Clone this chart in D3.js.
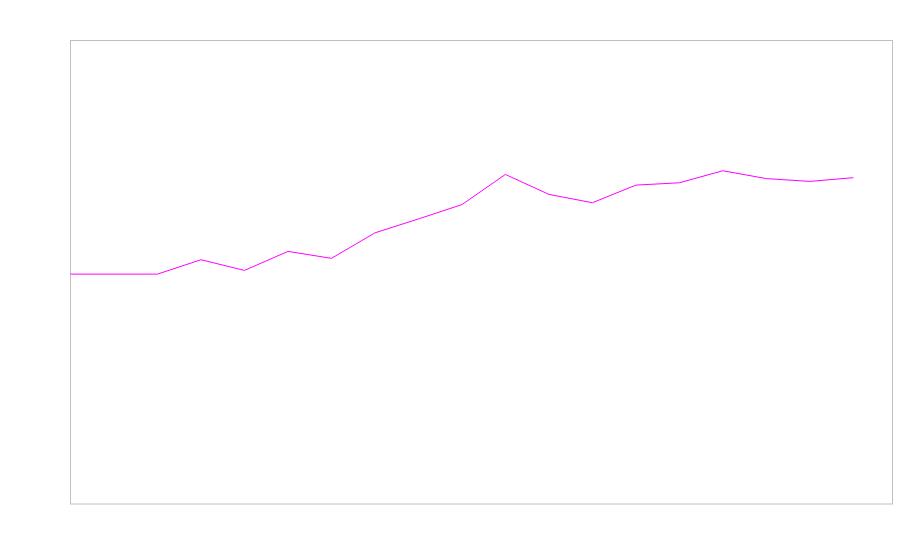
<!DOCTYPE html>
<html>
<head>
<meta charset="utf-8">
<script src="https://cdn.jsdelivr.net/npm/d3@7"></script>
<style>
  body { margin: 0; background: #fff; }
</style>
</head>
<body>
<svg width="900" height="560"></svg>
<script>
// Data (no axis labels shown)
const steps = d3.range(19);
const values = [49.6, 49.6, 49.6, 52.7, 50.4, 54.5, 53.0, 58.5, 61.5, 64.6,
                71.1, 66.8, 65.0, 68.8, 69.3, 71.9, 70.2, 69.6, 70.4];
const yDomain = [0, 100];
const xDomain = [0, 18.9];

const svg = d3.select('svg');
const width = +svg.attr('width');
const height = +svg.attr('height');

// plot area
const margin = { top: 40.5, right: 7.5, bottom: 56, left: 70.5 };
const innerW = width - margin.left - margin.right;
const innerH = height - margin.top - margin.bottom;

const g = svg.append('g')
    .attr('transform', `translate(${margin.left},${margin.top})`);

const x = d3.scaleLinear().domain(xDomain).range([0, innerW]);
const y = d3.scaleLinear().domain(yDomain).range([innerH, 0]);

// frame
g.append('rect')
    .attr('width', innerW)
    .attr('height', innerH)
    .attr('fill', 'none')
    .attr('stroke', '#c0c0c0')
    .attr('stroke-width', 1);

const line = d3.line()
    .x((d, i) => x(steps[i]))
    .y(d => y(d));

g.append('path')
    .datum(values)
    .attr('d', line)
    .attr('fill', 'none')
    .attr('stroke', '#ff00ff')
    .attr('stroke-width', 1);
</script>
</body>
</html>
